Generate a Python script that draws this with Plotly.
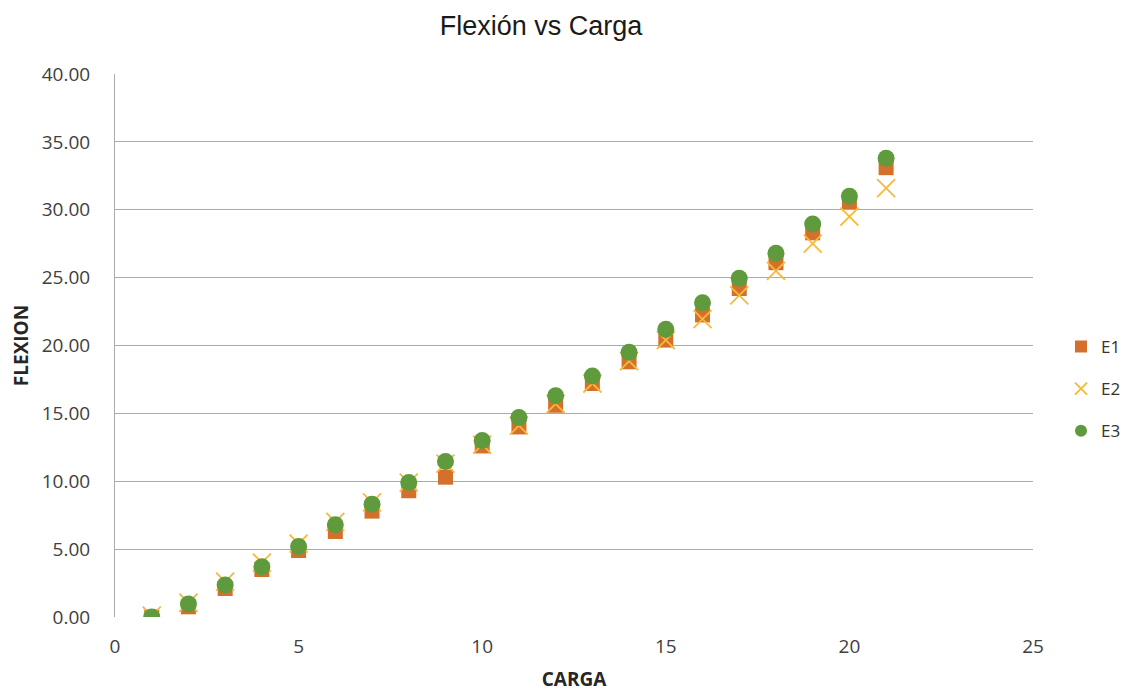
import plotly.graph_objects as go

carga = list(range(1, 22))
e1 = [0.0, 0.75, 2.1, 3.5, 4.9, 6.3, 7.8, 9.3, 10.3, 12.6, 14.0, 15.6, 17.2, 18.8, 20.4,
      22.25, 24.2, 26.1, 28.3, 30.6, 33.1]
e2 = [0.1, 1.05, 2.6, 4.0, 5.4, 7.0, 8.45, 9.9, 11.3, 12.7, 14.1, 15.7, 17.2, 18.85, 20.4,
      21.95, 23.7, 25.5, 27.5, 29.5, 31.6]
e3 = [0.0, 0.95, 2.36, 3.7, 5.2, 6.8, 8.3, 9.9, 11.45, 13.0, 14.7, 16.3, 17.75, 19.5, 21.2,
      23.15, 24.95, 26.8, 28.95, 31.0, 33.8]

names = ["E1", "E2", "E3"]
colors = ["#D4702C", "#F5BA3A", "#5F9A3C"]
symbols = ["square", "x-thin", "circle"]
sizes = [15, 18, 17]

fig = go.Figure()
for name, ys, col, sym, sz in zip(names, [e1, e2, e3], colors, symbols, sizes):
    marker = dict(color=col, symbol=sym, size=sz)
    if sym == "x-thin":
        marker["line"] = dict(color=col, width=1.8)
    fig.add_trace(go.Scatter(x=carga, y=ys, mode="markers", name=name, legendgroup=name,
                             marker=marker))

fig.update_layout(
    width=1127, height=692,
    paper_bgcolor="white", plot_bgcolor="white",
    margin=dict(l=115, r=94, t=74, b=75, autoexpand=False),
    title=dict(text="Flexión vs Carga", x=0.48, xanchor="center", y=0.963, yanchor="middle",
               font=dict(family="Liberation Sans, Arial", size=27, color="#1a1a1a")),
    font=dict(family="Open Sans, Noto Sans", size=19, color="#404040"),
    legend=dict(x=1.0305, y=0.42, xanchor="left", yanchor="middle",
                font=dict(size=17, color="#333333"), itemsizing="constant", itemwidth=30,
                tracegroupgap=17, bgcolor="rgba(0,0,0,0)"),
    showlegend=True,
)
fig.update_xaxes(range=[0, 25], dtick=5, tick0=0, showgrid=False, zeroline=False,
                 showline=False, ticks="", ticklen=0, ticklabelstandoff=16, automargin=False,
                 title=dict(text="<b>CARGA</b>", font=dict(size=19, color="#262626"), standoff=25))
fig.update_yaxes(range=[0, 40], dtick=5, tick0=0, tickformat=".2f", showgrid=True,
                 gridcolor="#ABABAB", gridwidth=1, zeroline=False, showline=True,
                 linecolor="#ABABAB", linewidth=1, ticks="", ticklabelstandoff=20, automargin=False,
                 title=dict(text="<b>FLEXION</b>", font=dict(size=19, color="#262626"), standoff=8))

fig.write_html("out.html", config={"displayModeBar": False},
               post_script="document.body.style.margin='0';document.body.style.overflow='hidden';")
